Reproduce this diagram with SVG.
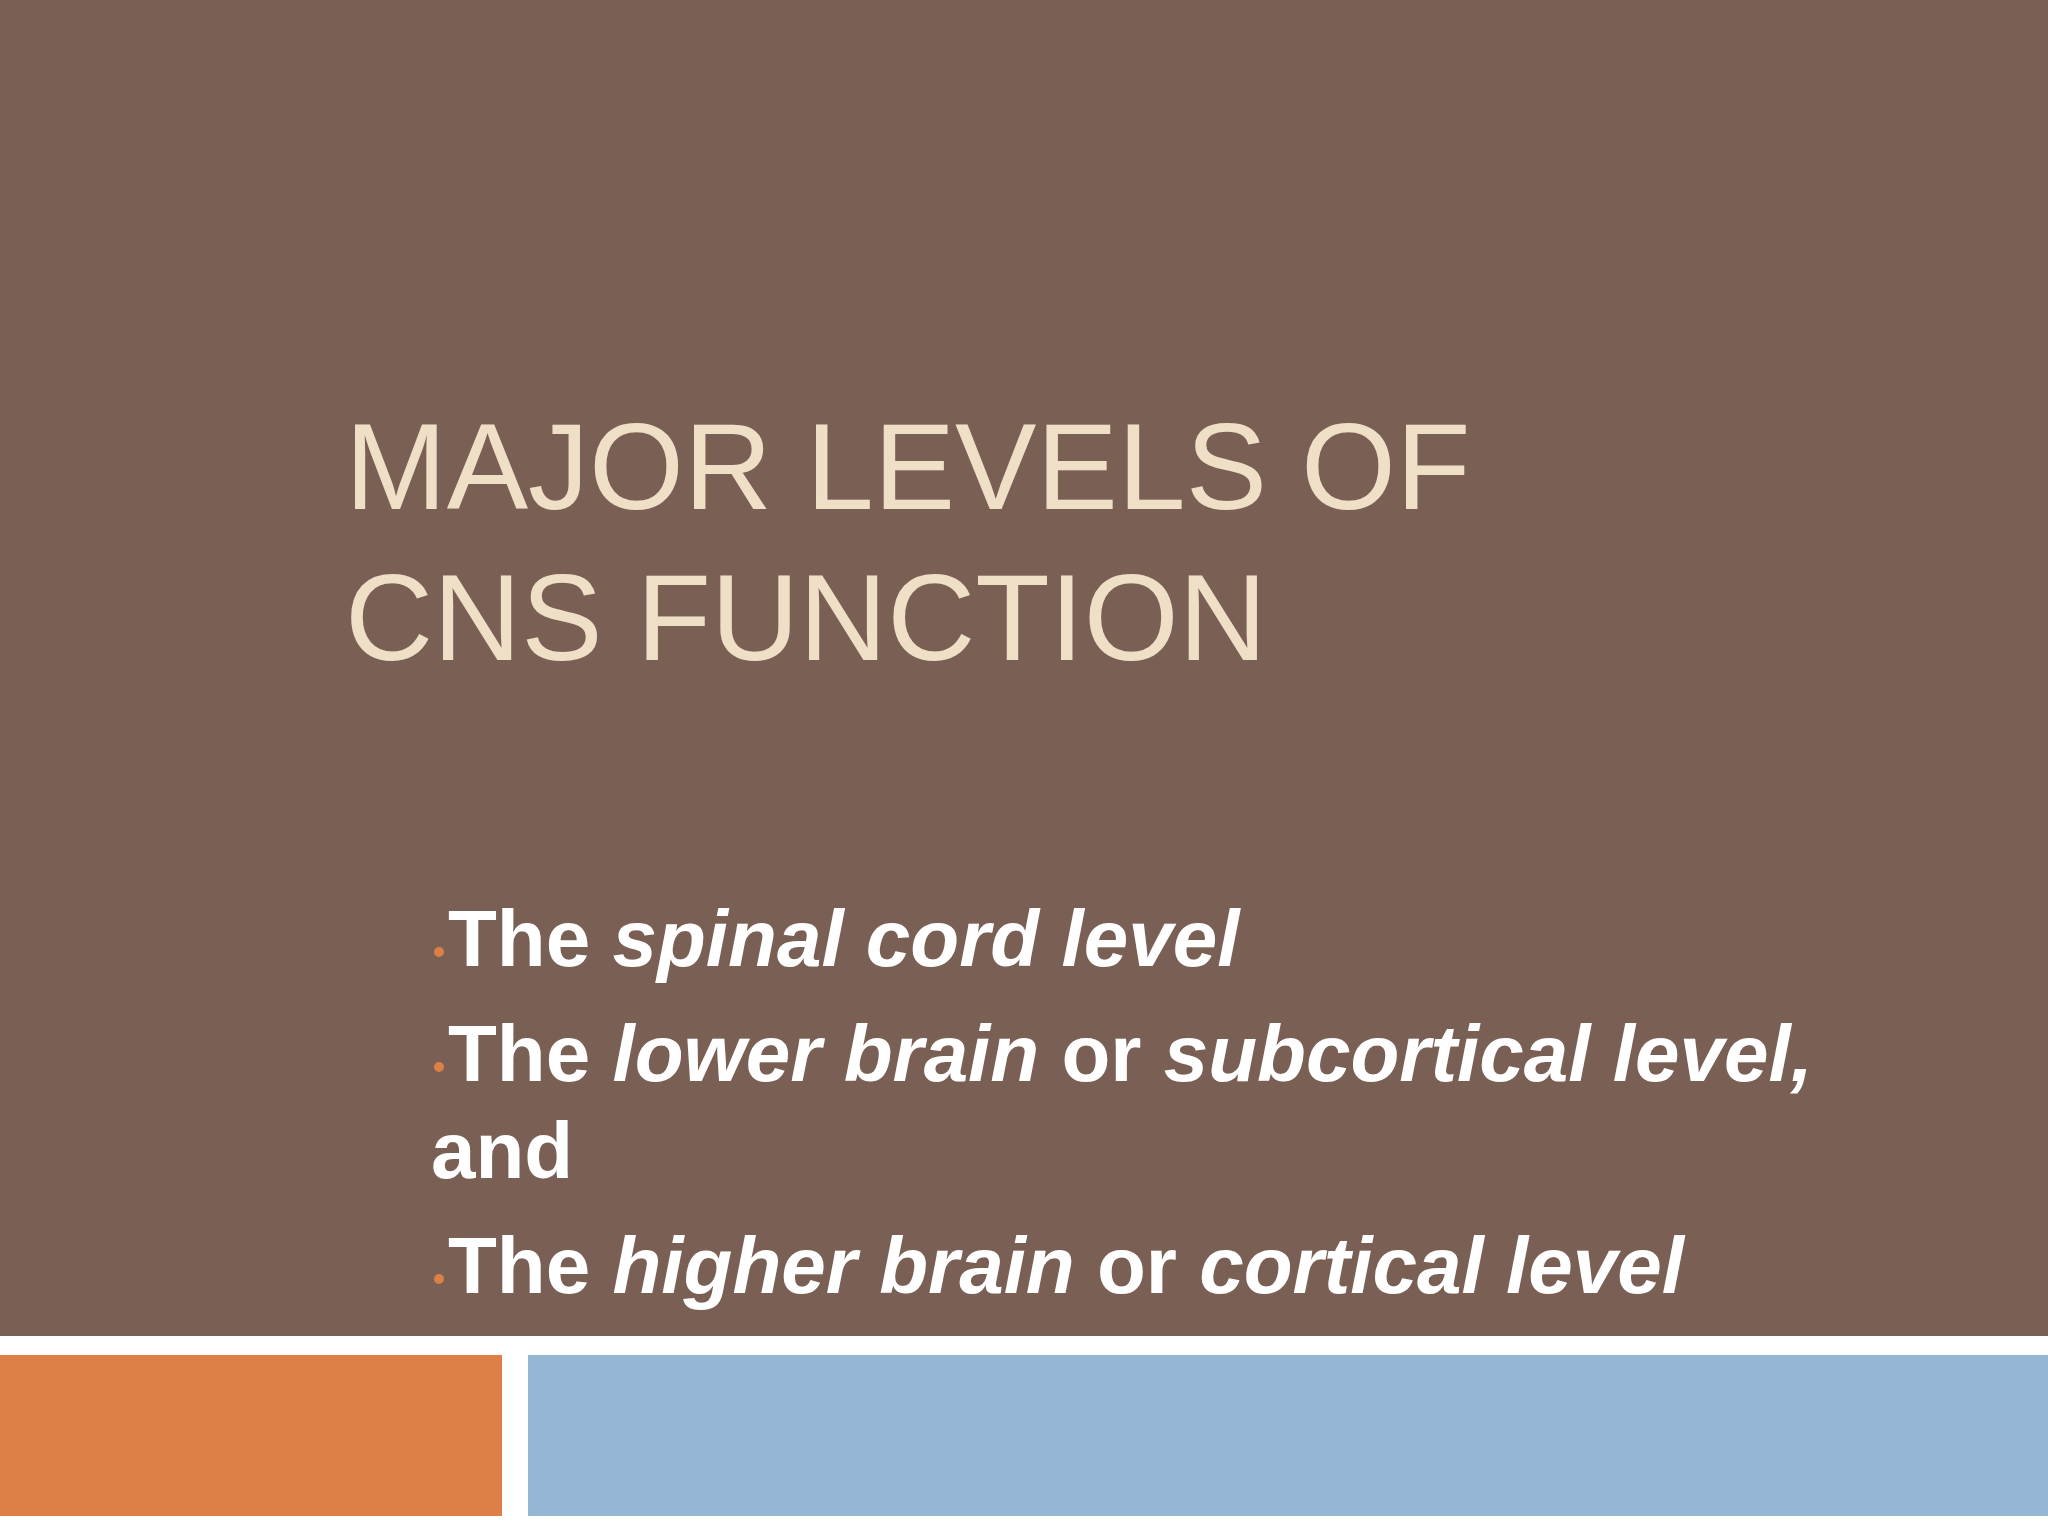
<svg xmlns="http://www.w3.org/2000/svg" width="2048" height="1536" viewBox="0 0 2048 1536">
<style>
.t{font-family:"Liberation Sans",Arial,sans-serif;fill:#efdfc6;font-size:122px}
.b{font-family:"Liberation Sans",Arial,sans-serif;fill:#ffffff;font-size:80px;font-weight:bold}
.i{font-style:italic}
.d{fill:#dd8047}
</style>
<rect width="2048" height="1536" fill="#ffffff"/>
<rect id="bg" x="0" y="0" width="2048" height="1336" fill="#7a5f55"/>
<rect id="orange" x="0" y="1355" width="502" height="161" fill="#dd8047"/>
<rect id="blue" x="528" y="1355" width="1520" height="161" fill="#94b6d2"/>
<g id="title">
<text class="t" x="345" y="509">MAJOR LEVELS OF</text>
<text class="t" x="345" y="660">CNS FUNCTION</text>
</g>
<g id="bullets">
<circle class="d" cx="439" cy="952" r="5"/>
<text class="b" x="448" y="966">The <tspan class="i">spinal cord level</tspan></text>
<circle class="d" cx="439" cy="1067" r="5"/>
<text class="b" x="448" y="1081">The <tspan class="i">lower brain</tspan> or <tspan class="i">subcortical level,</tspan></text>
<text class="b" x="431" y="1178">and</text>
<circle class="d" cx="439" cy="1279" r="5"/>
<text class="b" x="448" y="1293">The <tspan class="i">higher brain</tspan> or <tspan class="i">cortical level</tspan></text>
</g>
</svg>
